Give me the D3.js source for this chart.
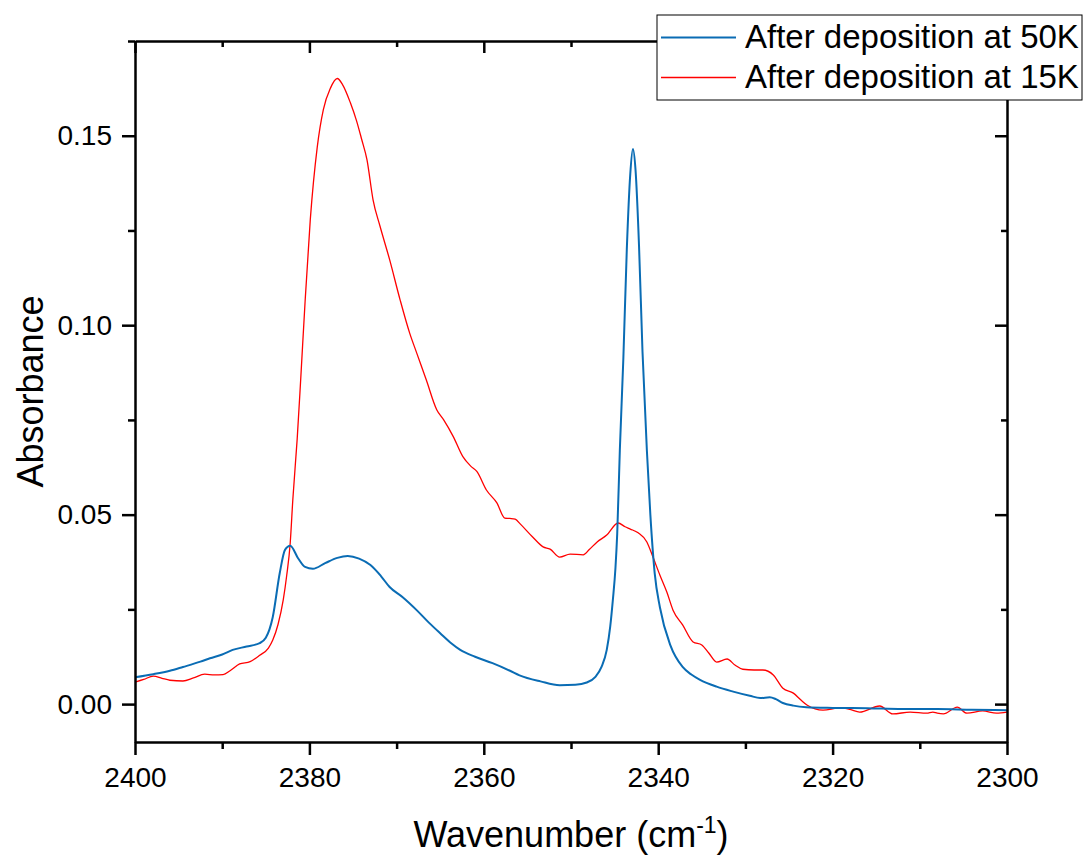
<!DOCTYPE html>
<html>
<head>
<meta charset="utf-8">
<script src="https://cdn.jsdelivr.net/npm/d3@7"></script>
<style>
  body { margin: 0; background: #fff; }
  text { font-family: "Liberation Sans", Arial, sans-serif; fill: #000; }
</style>
</head>
<body>
<div id="chart"></div>
<script>
// spectra: [wavenumber, absorbance]
var blue50K = [
  [2400, 0.0071], [2397.9, 0.0079], [2396, 0.0088], [2394.5, 0.0098], [2392.5, 0.0112],
  [2391.4, 0.0121], [2390, 0.0131], [2388.8, 0.0143], [2387.2, 0.0152], [2385.7, 0.0161],
  [2385, 0.0175], [2384.2, 0.023], [2383.4, 0.0346], [2382.8, 0.0407], [2382.2, 0.0418],
  [2381.3, 0.0385], [2380.5, 0.0362], [2379.6, 0.0357], [2378.2, 0.0372], [2376.8, 0.0386],
  [2375.6, 0.0391], [2374.3, 0.0384], [2373.0, 0.0367], [2371.8, 0.0338], [2370.8, 0.0309],
  [2369.3, 0.0282], [2367.7, 0.0248], [2366.3, 0.0215], [2365.0, 0.0187], [2363.7, 0.0160],
  [2362.7, 0.0143], [2361, 0.0125], [2359, 0.0108], [2357, 0.0088], [2355.9, 0.0076],
  [2353.5, 0.0060], [2351.3, 0.0050], [2349.5, 0.0051], [2348.2, 0.0057], [2347.2, 0.0072],
  [2346.5, 0.0098], [2345.9, 0.0143], [2345.5, 0.0205], [2345.2, 0.0275], [2344.9, 0.036],
  [2344.7, 0.045], [2344.4, 0.067], [2344.0, 0.091], [2343.6, 0.120], [2343.2, 0.140],
  [2342.9, 0.1465], [2342.6, 0.141], [2342.2, 0.121], [2341.8, 0.093], [2341.3, 0.067],
  [2340.9, 0.050], [2340.4, 0.0345], [2339.8, 0.0255], [2338.6, 0.0155], [2337.2, 0.0098],
  [2336.2, 0.0078], [2335.2, 0.0064], [2333.3, 0.0046], [2331.4, 0.0033], [2329.5, 0.0022],
  [2328.3, 0.0016], [2327.2, 0.0018], [2326.5, 0.0013], [2325.7, 0.0003], [2324.5, -0.0004],
  [2323.0, -0.0008], [2320, -0.0010], [2316, -0.0011], [2312, -0.0013], [2308, -0.0013],
  [2304, -0.0015], [2300, -0.0016]
];

var red15K = [
  [2400, 0.0058], [2399, 0.0065], [2397.9, 0.0074], [2396.9, 0.0068], [2396, 0.0063],
  [2394.5, 0.0061], [2393.3, 0.0069], [2392, 0.0079], [2390.9, 0.0077], [2389.9, 0.0078],
  [2389.1, 0.0088], [2388, 0.0106], [2386.8, 0.0112], [2385.7, 0.0129], [2384.7, 0.0148],
  [2384.2, 0.0169], [2383.6, 0.021], [2383.0, 0.0275], [2382.6, 0.034], [2382.2, 0.0425],
  [2381.9, 0.054], [2381.4, 0.070], [2381.0, 0.0856], [2380.5, 0.106], [2379.9, 0.1278],
  [2379.1, 0.147], [2378.4, 0.1569], [2377.6, 0.1625], [2376.8, 0.1651], [2376.2, 0.1635],
  [2375.3, 0.1587], [2374.6, 0.1540], [2374.0, 0.1490], [2373.4, 0.1437], [2372.7, 0.1331],
  [2371.9, 0.1261], [2370.8, 0.1173], [2369.6, 0.1067], [2368.5, 0.0979], [2367.7, 0.0927],
  [2366.6, 0.0856], [2365.4, 0.0777], [2364.6, 0.0750], [2363.5, 0.0706], [2362.4, 0.0653],
  [2361.5, 0.0628], [2360.8, 0.0614], [2359.7, 0.0565], [2358.5, 0.0531], [2357.6, 0.0491],
  [2357.0, 0.0490], [2356.4, 0.0488], [2355.8, 0.0475], [2354.4, 0.0441], [2353.2, 0.0415],
  [2352.4, 0.0409], [2351.3, 0.0388], [2350.1, 0.0396], [2348.6, 0.0394], [2347.9, 0.0408],
  [2347.0, 0.0428], [2345.9, 0.0446], [2344.6, 0.0478], [2343.8, 0.0468], [2343.2, 0.0462],
  [2342.3, 0.0452], [2341.3, 0.0428], [2340.6, 0.0388], [2339.8, 0.0340], [2339.0, 0.0295],
  [2338.3, 0.0248], [2337.2, 0.0209], [2336.0, 0.0164], [2335.0, 0.0156], [2334.2, 0.0135],
  [2333.3, 0.0111], [2332.1, 0.0119], [2331.2, 0.0103], [2330.3, 0.0092], [2329, 0.0090],
  [2328.0, 0.0090], [2326.8, 0.0077], [2325.7, 0.0042], [2324.5, 0.0029], [2323.6, 0.0010],
  [2322.9, -0.0003], [2321.1, -0.0016], [2319.2, -0.0010], [2318, -0.0014], [2316.9, -0.0021],
  [2314.6, -0.0005], [2313.1, -0.0026], [2311.1, -0.0021], [2309.2, -0.0024], [2308.5, -0.0021],
  [2308.0, -0.0024], [2307.3, -0.0026], [2305.7, -0.0008], [2304.6, -0.0024], [2302.8, -0.0018],
  [2301.2, -0.0024], [2300, -0.0021]
];

var xTicks = [2400, 2380, 2360, 2340, 2320, 2300];
var xMinor = [2390, 2370, 2350, 2330, 2310];
var yTicks = [0.00, 0.05, 0.10, 0.15];
var yMinor = [0.025, 0.075, 0.125, 0.175];
var legendNames = ["After deposition at 50K", "After deposition at 15K"];
var colors = ["#0a6cb4", "#ff0000"];

var width = 1086, height = 861;
// plot frame (pixel edges)
var mLeft = 135, mRight = 1007, mTop = 41, mBottom = 742;

var svg = d3.select("#chart").append("svg")
    .attr("width", width)
    .attr("height", height);

var x = d3.scaleLinear().domain([2400, 2300]).range([mLeft, mRight]);
var y = d3.scaleLinear().domain([-0.01, 0.175]).range([mBottom, mTop]);

var line = d3.line()
    .x(function(d) { return x(d[0]); })
    .y(function(d) { return y(d[1]); })
    .curve(d3.curveMonotoneX);

svg.append("clipPath").attr("id", "clip")
  .append("rect").attr("x", mLeft).attr("y", mTop).attr("width", mRight - mLeft).attr("height", mBottom - mTop);

var plot = svg.append("g").attr("clip-path", "url(#clip)");

plot.append("path").datum(red15K)
    .attr("d", line)
    .attr("fill", "none")
    .attr("stroke", colors[1])
    .attr("stroke-width", 1.3);

plot.append("path").datum(blue50K)
    .attr("d", line)
    .attr("fill", "none")
    .attr("stroke", colors[0])
    .attr("stroke-width", 2);

// axes: bottom/left ticks outward, top/right ticks inward
function styleAxis(g) {
  g.select(".domain").attr("stroke-width", 2.5).attr("stroke", "#000");
  g.selectAll(".tick line").attr("stroke-width", 2.5).attr("stroke", "#000");
  g.selectAll("text")
    .style("font-family", "'Liberation Sans', Arial, sans-serif")
    .style("font-size", "28px")
    .attr("fill", "#000");
}

svg.append("g").attr("transform", "translate(0," + mBottom + ")")
    .call(d3.axisBottom(x).tickValues(xTicks).tickSize(13).tickSizeOuter(0).tickPadding(12).tickFormat(d3.format("d")))
    .call(styleAxis);
svg.append("g").attr("transform", "translate(0," + mBottom + ")")
    .call(d3.axisBottom(x).tickValues(xMinor).tickSize(7).tickSizeOuter(0).tickFormat(""))
    .call(styleAxis).select(".domain").remove();

svg.append("g").attr("transform", "translate(0," + mTop + ")")
    .call(d3.axisBottom(x).tickValues(xTicks).tickSize(12).tickSizeOuter(0).tickFormat(""))
    .call(styleAxis);
svg.append("g").attr("transform", "translate(0," + mTop + ")")
    .call(d3.axisBottom(x).tickValues(xMinor).tickSize(6).tickSizeOuter(0).tickFormat(""))
    .call(styleAxis).select(".domain").remove();

svg.append("g").attr("transform", "translate(" + mLeft + ",0)")
    .call(d3.axisLeft(y).tickValues(yTicks).tickSize(13).tickSizeOuter(0).tickPadding(10).tickFormat(d3.format(".2f")))
    .call(styleAxis);
svg.append("g").attr("transform", "translate(" + mLeft + ",0)")
    .call(d3.axisLeft(y).tickValues(yMinor).tickSize(7).tickSizeOuter(0).tickFormat(""))
    .call(styleAxis).select(".domain").remove();

svg.append("g").attr("transform", "translate(" + mRight + ",0)")
    .call(d3.axisLeft(y).tickValues(yTicks).tickSize(12).tickSizeOuter(0).tickFormat(""))
    .call(styleAxis);
svg.append("g").attr("transform", "translate(" + mRight + ",0)")
    .call(d3.axisLeft(y).tickValues(yMinor).tickSize(6).tickSizeOuter(0).tickFormat(""))
    .call(styleAxis).select(".domain").remove();

// axis titles
var xTitle = svg.append("text")
    .attr("x", (mLeft + mRight) / 2)
    .attr("y", 847)
    .attr("text-anchor", "middle")
    .style("font-size", "36px");
xTitle.append("tspan").text("Wavenumber (cm");
xTitle.append("tspan").attr("dy", -14).style("font-size", "23px").text("-1");
xTitle.append("tspan").attr("dy", 14).text(")");

svg.append("text")
    .attr("transform", "translate(43," + ((mTop + mBottom) / 2) + ") rotate(-90)")
    .attr("text-anchor", "middle")
    .style("font-size", "36px")
    .text("Absorbance");

// legend
var legend = svg.append("g");
legend.append("rect")
    .attr("x", 657).attr("y", 15)
    .attr("width", 425).attr("height", 85)
    .attr("fill", "#fff")
    .attr("stroke", "#000")
    .attr("stroke-width", 1);

legendNames.forEach(function(name, i) {
  var cy = 37.5 + i * 40;
  legend.append("line")
      .attr("x1", 661).attr("x2", 736)
      .attr("y1", cy).attr("y2", cy)
      .attr("stroke", colors[i])
      .attr("stroke-width", i === 0 ? 2 : 1.3);
  legend.append("text")
      .attr("x", 745).attr("y", cy + 10.5)
      .style("font-size", "33px")
      .text(name);
});
</script>
</body>
</html>
